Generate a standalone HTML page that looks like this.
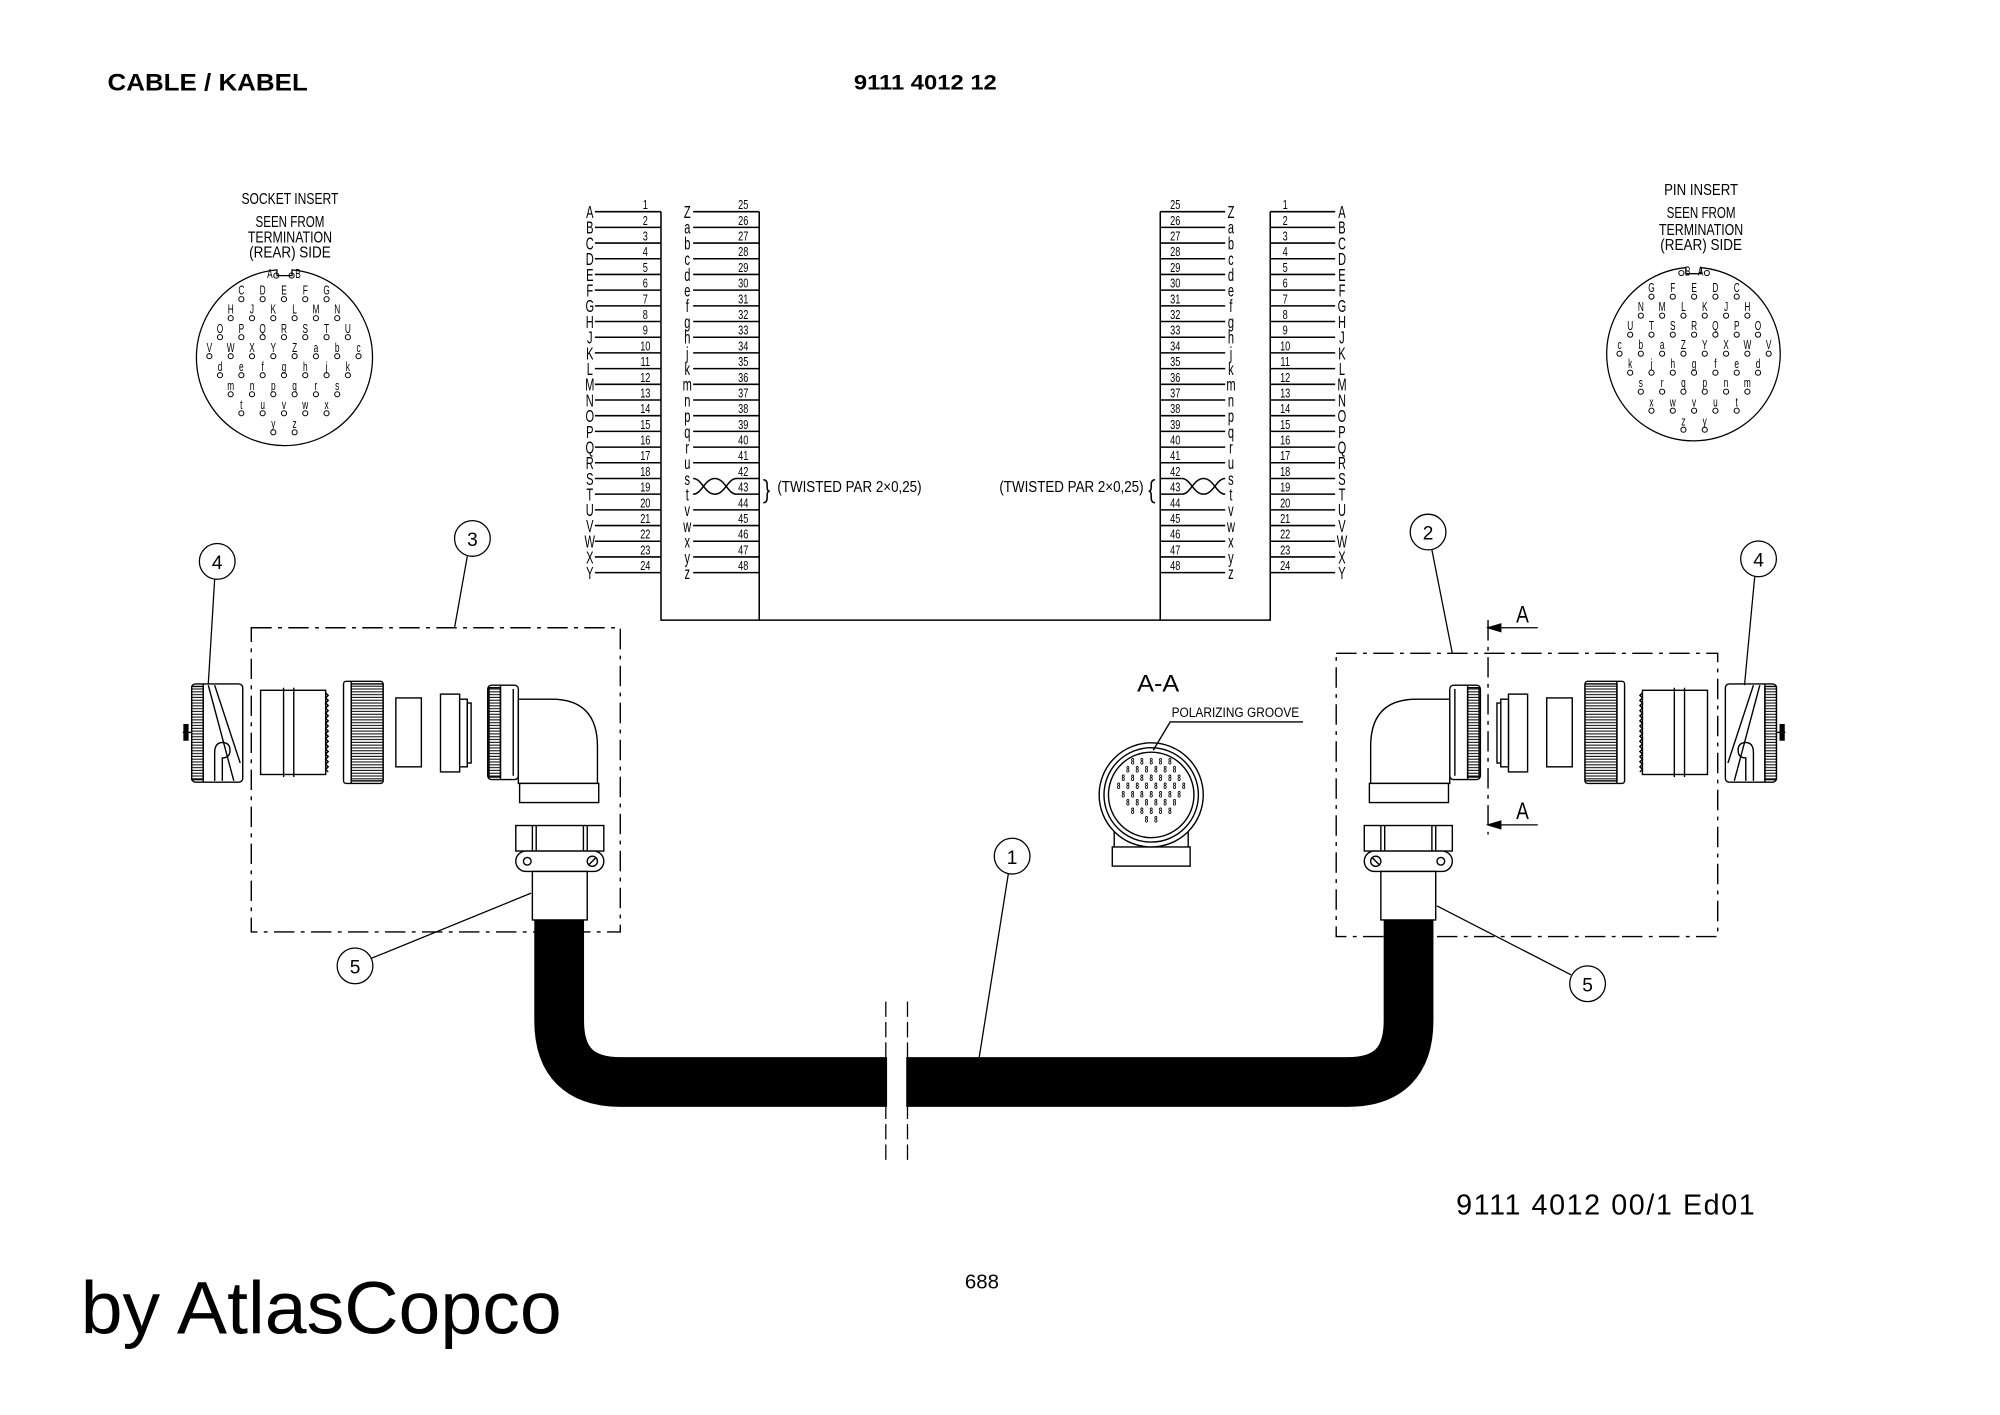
<!DOCTYPE html>
<html><head><meta charset="utf-8"><style>
html,body{margin:0;padding:0;background:#fff;}
svg{display:block;}
.n{font-family:"Liberation Sans Narrow","Liberation Sans",sans-serif;}
</style></head><body>
<svg id="s" width="2000" height="1415" viewBox="0 0 1567 1109" xmlns="http://www.w3.org/2000/svg">
<defs>
<pattern id="kn" width="4" height="2.2" patternUnits="userSpaceOnUse"><rect width="4" height="2.2" fill="#fff"/><line x1="0" y1="1" x2="4" y2="1" stroke="#000" stroke-width="0.8"/></pattern>
</defs>
<rect width="1567" height="1109" fill="#fff"/>
<g font-family="Liberation Sans, sans-serif" fill="#000">
<text x="84" y="71" font-size="19" font-weight="bold" textLength="157" lengthAdjust="spacingAndGlyphs">CABLE / KABEL</text>
<text x="669" y="70" font-size="17" font-weight="bold" textLength="112" lengthAdjust="spacingAndGlyphs">9111 4012 12</text>
<text x="1141" y="952" font-size="22.5" textLength="234" lengthAdjust="spacing">9111 4012 00/1  Ed01</text>
<text x="756" y="1010" font-size="16">688</text>
<text x="63" y="1045" font-size="58" textLength="377" lengthAdjust="spacingAndGlyphs">by AtlasCopco</text>
</g>
<g id="tbl" stroke="#000" stroke-width="1.2" fill="none">
<polyline points="517.8,165.9 517.8,486 995.3,486 995.3,165.9"/>
<line x1="594.8" y1="165.9" x2="594.8" y2="486"/>
<line x1="909.1" y1="165.9" x2="909.1" y2="486"/>
</g>
<g id="txt" class="n" fill="#000"></g>
<g fill="none" stroke="#000" stroke-width="1">
<path d="M216.8,211.5 A69,69 0 1 0 228.6,211.5 L228.6,216 L216.8,216 Z"/>
<path d="M1321,209.8 A68,68 0 1 0 1333,209.8 L1333,214.5 L1321,214.5 Z"/>
</g>
<g class="n" font-size="12" text-anchor="middle" fill="#000">
<text x="227" y="160" textLength="76" lengthAdjust="spacingAndGlyphs">SOCKET INSERT</text>
<text x="227" y="178" textLength="54" lengthAdjust="spacingAndGlyphs">SEEN FROM</text>
<text x="227" y="190" textLength="66" lengthAdjust="spacingAndGlyphs">TERMINATION</text>
<text x="227" y="202" textLength="64" lengthAdjust="spacingAndGlyphs">(REAR) SIDE</text>
<text x="1333" y="153" textLength="58" lengthAdjust="spacingAndGlyphs">PIN INSERT</text>
<text x="1333" y="171" textLength="54" lengthAdjust="spacingAndGlyphs">SEEN FROM</text>
<text x="1333" y="184" textLength="66" lengthAdjust="spacingAndGlyphs">TERMINATION</text>
<text x="1333" y="196" textLength="64" lengthAdjust="spacingAndGlyphs">(REAR) SIDE</text>
</g>
<g id="pins" class="n" font-size="10" fill="#000" text-anchor="middle"></g>

<path d="M438,718 V800 Q438,848 486,848 H1056 Q1103.7,848 1103.7,800 V718" stroke="#000" stroke-width="39" fill="none"/>
<rect x="695" y="822" width="15" height="52" fill="#fff"/>
<g stroke="#000" stroke-width="1" stroke-dasharray="12 4">
<line x1="694" y1="785" x2="694" y2="912"/><line x1="711" y1="785" x2="711" y2="912"/>
</g>

<g fill="none" stroke="#000" stroke-width="1.1" stroke-dasharray="16 5 3 5">
<rect x="196.7" y="492" width="289.2" height="238.4"/>
<rect x="1047" y="512" width="299" height="222"/>
<line x1="1166" y1="486" x2="1166" y2="654"/>
</g>
<g stroke="#000" stroke-width="1" fill="#000">
<line x1="1166" y1="492" x2="1205" y2="492"/><path d="M1166,492 l10,-3 v6z"/>
<line x1="1166" y1="646.5" x2="1205" y2="646.5"/><path d="M1166,646.5 l10,-3 v6z"/>
</g>
<g class="n" font-size="19" fill="#000"><text x="1188" y="488" textLength="10" lengthAdjust="spacingAndGlyphs">A</text><text x="1188" y="642" textLength="10" lengthAdjust="spacingAndGlyphs">A</text><text x="891" y="542" textLength="33" lengthAdjust="spacingAndGlyphs">A-A</text></g>

<g id="parts" fill="#fff" stroke="#000" stroke-width="1.1">
<line x1="143" y1="574" x2="150" y2="574"/><rect x="144" y="568" width="3" height="12" fill="#000"/>
<rect x="150" y="536" width="40" height="77" rx="3"/>
<rect x="150" y="538" width="9" height="73" fill="url(#kn)"/>
<line x1="159" y1="536" x2="159" y2="613"/>
<path d="M168,537 L188,598 M163,537 L183,612" fill="none"/>
<path d="M168,612 V590 Q168,582 174,582 Q180,582 180,588 Q180,594 174,594 V612" fill="none"/>
<rect x="204" y="541" width="51" height="66"/>
<line x1="222" y1="539" x2="222" y2="609"/><line x1="230" y1="539" x2="230" y2="609"/>
<path d="M255,543 l2,2 -2,2 2,2 -2,2 2,2 -2,2 2,2 -2,2 2,2 -2,2 2,2 -2,2 2,2 -2,2 2,2 -2,2 2,2 -2,2 2,2 -2,2 2,2 -2,2 2,2 -2,2 2,2 -2,2 2,2 -2,2 2,2 -2,2 2,2" fill="none"/>
<rect x="269" y="534" width="31" height="80" rx="2"/>
<rect x="275" y="536" width="25" height="76" fill="url(#kn)"/>
<line x1="275" y1="534" x2="275" y2="614"/>
<rect x="310" y="547" width="20" height="54"/>
<rect x="345" y="544" width="15" height="61"/>
<rect x="360" y="548" width="6" height="53"/>
<rect x="366" y="551" width="3" height="47"/>
<rect x="382" y="537" width="24" height="74" rx="3"/>
<rect x="383" y="539" width="9" height="70" fill="url(#kn)"/>
<line x1="392" y1="537" x2="392" y2="611"/><line x1="402" y1="540" x2="402" y2="608"/>
<path d="M406,548 H432 Q468,548 468,585 V614 H406 Z"/>
<rect x="407" y="614" width="62" height="15"/>
<rect x="404" y="647" width="69" height="20"/>
<line x1="417" y1="647" x2="417" y2="667"/><line x1="420" y1="647" x2="420" y2="667"/>
<line x1="457" y1="647" x2="457" y2="667"/><line x1="460" y1="647" x2="460" y2="667"/>
<rect x="404" y="667" width="69" height="16" rx="8"/>
<circle cx="413" cy="675" r="3"/><circle cx="464" cy="675" r="4"/><line x1="461" y1="678" x2="467" y2="672"/>
<rect x="417" y="683" width="43" height="38"/>
</g>
<use href="#parts" transform="translate(1542,0) scale(-1,1)"/>

<g fill="#fff" stroke="#000" stroke-width="1.1">
<rect x="871.5" y="663.8" width="61" height="15"/>
<line x1="873" y1="652" x2="873" y2="664"/><line x1="931" y1="652" x2="931" y2="664"/>
<circle cx="902" cy="623" r="40.8"/><circle cx="902" cy="623" r="37" fill="none"/><circle cx="902" cy="623" r="33.5" fill="none"/>
<polyline points="903.6,588 916.9,565.8 1021,565.8" fill="none"/>
</g>
<g id="aa" class="n" font-size="6.5" font-weight="bold" fill="#000" text-anchor="middle"></g>
<text x="918" y="562" class="n" font-size="10.5" textLength="100" lengthAdjust="spacingAndGlyphs">POLARIZING GROOVE</text>

<g fill="#fff" stroke="#000" stroke-width="1">
<line x1="168" y1="454" x2="163" y2="536"/><circle cx="170" cy="440" r="14"/>
<line x1="366" y1="436" x2="356" y2="492"/><circle cx="370" cy="422" r="14"/>
<line x1="291" y1="751" x2="416" y2="700"/><circle cx="278" cy="757" r="14"/>
<line x1="790" y1="685" x2="767" y2="830"/><circle cx="793" cy="671" r="14"/>
<line x1="1122" y1="431" x2="1138" y2="512"/><circle cx="1119" cy="417" r="14"/>
<line x1="1375" y1="452" x2="1367" y2="537"/><circle cx="1378" cy="438" r="14"/>
<line x1="1231" y1="764" x2="1126" y2="710"/><circle cx="1244" cy="771" r="14"/>
</g>
<g class="n" font-size="15" fill="#000" text-anchor="middle">
<text x="170" y="446">4</text><text x="370" y="428">3</text><text x="278" y="763">5</text>
<text x="793" y="677">1</text><text x="1119" y="423">2</text><text x="1378" y="444">4</text><text x="1244" y="777">5</text>
</g>
</svg>
<script>
var NS="http://www.w3.org/2000/svg";
function el(p,t,a,txt){var e=document.createElementNS(NS,t);for(var k in a)e.setAttribute(k,a[k]);if(txt!==undefined)e.textContent=txt;p.appendChild(e);return e;}
function nt(p,x,y,s,txt,sx,anchor){var e=el(p,'text',{x:0,y:0,'font-size':s,'text-anchor':anchor||'middle',transform:'translate('+x+','+y+') scale('+sx+',1)'},txt);return e;}
var tbl=document.getElementById('tbl'),tx=document.getElementById('txt');
var L1="ABCDEFGHJKLMNOPQRSTUVWXY".split(""),L2="Zabcdefghjkmnpqrustvwxyz".split("");
for(var i=0;i<24;i++){var y=165.9+i*12.3;
 el(tbl,'line',{x1:466,y1:y,x2:517.8,y2:y});
 el(tbl,'line',{x1:1046.2,y1:y,x2:995.3,y2:y});
 if(i!=17&&i!=18){el(tbl,'line',{x1:543,y1:y,x2:594.8,y2:y});el(tbl,'line',{x1:909.1,y1:y,x2:960,y2:y});}
 else{el(tbl,'line',{x1:577,y1:y,x2:594.8,y2:y});el(tbl,'line',{x1:909.1,y1:y,x2:926,y2:y});}
 nt(tx,462,y+5,14,L1[i],0.62);
 nt(tx,1051.5,y+5,14,L1[i],0.62);
 nt(tx,538.4,y+5,14,L2[i],0.62);
 nt(tx,964.5,y+5,14,L2[i],0.62);
 nt(tx,505.5,y-2,10,i+1,0.72);
 nt(tx,1007,y-2,10,i+1,0.72);
 nt(tx,582.3,y-2,10,i+25,0.72);
 nt(tx,920.8,y-2,10,i+25,0.72);
}
var ya=165.9+17*12.3,yb=ya+12.3,ym=(ya+yb)/2;
el(tbl,'path',{d:"M543,"+ya+" C550,"+ya+" 552,"+yb+" 560,"+yb+" C568,"+yb+" 570,"+ya+" 577,"+ya});
el(tbl,'path',{d:"M543,"+yb+" C550,"+yb+" 552,"+ya+" 560,"+ya+" C568,"+ya+" 570,"+yb+" 577,"+yb});
el(tbl,'path',{d:"M926,"+ya+" C933,"+ya+" 935,"+yb+" 943,"+yb+" C951,"+yb+" 953,"+ya+" 960,"+ya});
el(tbl,'path',{d:"M926,"+yb+" C933,"+yb+" 935,"+ya+" 943,"+ya+" C951,"+ya+" 953,"+yb+" 960,"+yb});
el(tbl,'path',{d:"M598,"+(ya+1)+" q3,0 3,4 v2 q0,3 2,3 q-2,0 -2,3 v2 q0,4 -3,4"});
el(tbl,'path',{d:"M905,"+(ya+1)+" q-3,0 -3,4 v2 q0,3 -2,3 q2,0 2,3 v2 q0,4 3,4"});
el(tx,'text',{x:609,y:ym+4.5,'font-size':12,textLength:113,lengthAdjust:'spacingAndGlyphs'},"(TWISTED PAR 2\u00d70,25)");
el(tx,'text',{x:783,y:ym+4.5,'font-size':12,textLength:113,lengthAdjust:'spacingAndGlyphs'},"(TWISTED PAR 2\u00d70,25)");
var pins=document.getElementById('pins');
var rows=[["C","D","E","F","G"],["H","J","K","L","M","N"],["O","P","Q","R","S","T","U"],["V","W","X","Y","Z","a","b","c"],["d","e","f","g","h","j","k"],["m","n","p","q","r","s"],["t","u","v","w","x"],["y","z"]];
function insert(cx,cy,mir){
 for(var r=0;r<rows.length;r++){var row=rows[r],n=row.length;
  for(var c=0;c<n;c++){var x=cx+(c-(n-1)/2)*16.7*(mir?-1:1),y=cy+r*14.9;
   nt(pins,x,y+1,10,row[c],0.65);
   el(pins,'circle',{cx:x,cy:y+4.5,r:2,fill:'none',stroke:'#000','stroke-width':0.8});}}
 var ax=mir?[cx+8,cx-8]:[cx-8,cx+8];
 nt(pins,ax[0]-3,cy-12,10,"A",0.65);el(pins,'circle',{cx:ax[0]+2,cy:cy-14,r:2,fill:'none',stroke:'#000','stroke-width':0.8});
 nt(pins,ax[1]+3,cy-12,10,"B",0.65);el(pins,'circle',{cx:ax[1]-2,cy:cy-14,r:2,fill:'none',stroke:'#000','stroke-width':0.8});
}
insert(222.3,230,false);insert(1327.5,228,true);
var aa=document.getElementById('aa');
var cnt=[5,6,7,8,7,6,5,2];
for(var r=0;r<8;r++){for(var c=0;c<cnt[r];c++){var x=902+(c-(cnt[r]-1)/2)*7.3,y=599+r*6.5;nt(aa,x,y,7,"8",0.7);}}
</script>
</body></html>
